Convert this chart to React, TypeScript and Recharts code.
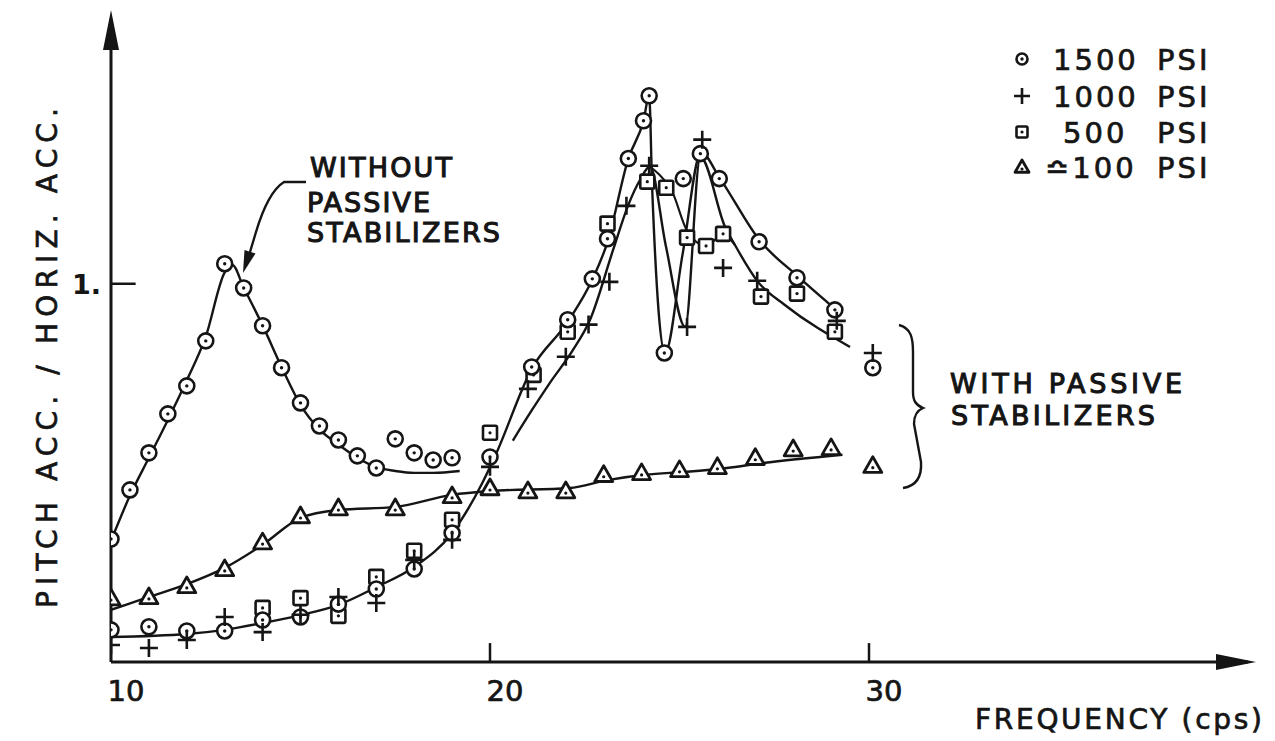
import React from 'react';
import { ComposedChart, Line, Scatter, XAxis, YAxis, ReferenceLine, Legend } from 'recharts';

const INK = '#151515';
const FONT = '"DejaVu Sans", sans-serif';

// 1500 psi, without passive stabilizers (measured points)
const freqBare = [10, 10.5, 11, 11.5, 12, 12.5, 13, 13.5, 14, 14.5, 15, 15.5, 16, 16.5, 17, 17.5, 18, 18.5, 19];
const ratioBare = [0.325, 0.455, 0.553, 0.656, 0.73, 0.849, 1.053, 0.989, 0.889, 0.778, 0.685, 0.624, 0.587, 0.545, 0.513, 0.59, 0.553, 0.534, 0.54];

// with passive stabilizers (measured points)
const freq1500 = [10, 11, 12, 13, 14, 15, 16, 17, 18, 19, 20, 21.1, 22.05, 22.7, 23.1, 23.65, 24.05, 24.2, 24.6, 25.1, 25.55, 26.05, 27.1, 28.1, 29.1, 30.1];
const ratio1500 = [0.085, 0.093, 0.082, 0.082, 0.111, 0.119, 0.153, 0.193, 0.246, 0.341, 0.542, 0.78, 0.905, 1.013, 1.119, 1.331, 1.431, 1.497, 0.817, 1.278, 1.344, 1.278, 1.111, 1.016, 0.931, 0.778];

const freq1000 = [10, 11, 12, 13, 14, 15, 16, 17, 18, 19, 20, 21, 22, 22.6, 23.15, 23.6, 24.2, 25.2, 25.6, 26.15, 27.05, 29.15, 30.1];
const ratio1000 = [0.045, 0.037, 0.058, 0.119, 0.079, 0.125, 0.172, 0.156, 0.27, 0.323, 0.516, 0.722, 0.807, 0.892, 1.005, 1.206, 1.312, 0.886, 1.381, 1.042, 1.008, 0.902, 0.817];

const freq500 = [14, 15, 16, 17, 18, 19, 20, 21.15, 22.05, 23.1, 24.15, 24.65, 25.2, 25.7, 26.15, 27.15, 28.1, 29.1];
const ratio500 = [0.143, 0.169, 0.122, 0.225, 0.294, 0.376, 0.606, 0.759, 0.873, 1.159, 1.27, 1.254, 1.122, 1.1, 1.132, 0.966, 0.974, 0.873];

const freq100 = [10, 11, 12, 13, 14, 15, 16, 17.5, 19, 20, 21, 22, 23, 24, 25, 26, 27, 28, 29, 30.1];
const ratio100 = [0.169, 0.172, 0.201, 0.246, 0.317, 0.386, 0.407, 0.407, 0.439, 0.46, 0.452, 0.452, 0.495, 0.5, 0.508, 0.516, 0.54, 0.563, 0.566, 0.519];

// faired curves as drawn on the sheet
const fairBareX = [10, 10.5, 11, 11.5, 12, 12.5, 13, 13.2, 13.5, 14, 14.5, 15, 15.5, 16, 16.5, 17, 17.5, 18, 18.5, 19.2];
const fairBareY = [0.32, 0.44, 0.54, 0.64, 0.745, 0.86, 1.03, 1.05, 0.99, 0.89, 0.78, 0.68, 0.615, 0.575, 0.54, 0.515, 0.505, 0.5, 0.5, 0.505];

const fair1500X = [10, 12, 13, 14, 15, 16, 17, 18, 19, 19.8, 20.15, 21.1, 22.05, 22.7, 23.1, 23.65, 24.05, 24.2, 24.28, 24.62, 25.08, 25.57, 26.07, 27.12, 28.13, 29.16];
const fair1500Y = [0.066, 0.074, 0.085, 0.103, 0.124, 0.151, 0.198, 0.251, 0.341, 0.474, 0.548, 0.775, 0.899, 1.011, 1.11, 1.331, 1.431, 1.497, 1.25, 0.817, 1.077, 1.347, 1.278, 1.114, 1.019, 0.929];

const fair1000X = [20.6, 21.1, 21.58, 22.19, 22.64, 23.25, 23.64, 23.96, 24.22, 24.64, 25.15, 25.55, 26.2, 26.46, 27.07, 27.78, 29.5];
const fair1000Y = [0.585, 0.665, 0.738, 0.825, 0.905, 1.09, 1.206, 1.275, 1.31, 1.1, 0.886, 1.335, 1.151, 1.103, 1.005, 0.944, 0.833];

const fair500X = [24.22, 24.45, 24.8, 25.2, 25.7, 26.15, 26.46];
const fair500Y = [1.31, 1.29, 1.245, 1.14, 1.1, 1.13, 1.103];

const fair100X = [10, 11, 12, 13, 14, 15, 16, 17.5, 19, 20, 22.1, 23.1, 24.1, 25.2, 26.25, 27.2, 29.3];
const fair100Y = [0.138, 0.172, 0.206, 0.249, 0.31, 0.381, 0.402, 0.41, 0.442, 0.452, 0.46, 0.481, 0.495, 0.503, 0.513, 0.526, 0.548];

const xTicks = [10, 20, 30];
const yTicks = [1];
const legendPressures = ['1500', '1000', '500', '\u224F100'];

const zip = (xs: number[], ys: number[]) => xs.map((x, i) => ({ x, y: ys[i] }));

const Ring = ({ cx, cy, r = 7.5 }: any) => (
  <g>
    <circle cx={cx} cy={cy} r={r} fill="#fff" stroke={INK} strokeWidth={2.6} />
    <circle cx={cx} cy={cy} r={1.7} fill={INK} />
  </g>
);
const Cross = ({ cx, cy, a = 9 }: any) => (
  <path d={`M${cx - a},${cy}H${cx + a}M${cx},${cy - a}V${cy + a}`} stroke={INK} strokeWidth={2.6} fill="none" />
);
const Box = ({ cx, cy, s = 7 }: any) => (
  <g>
    <rect x={cx - s} y={cy - s} width={2 * s} height={2 * s} rx={1.5} fill="#fff" stroke={INK} strokeWidth={2.6} />
    <circle cx={cx} cy={cy} r={1.6} fill={INK} />
  </g>
);
const Tri = ({ cx, cy, s = 9 }: any) => (
  <g>
    <path d={`M${cx},${cy - s}L${cx + s},${cy + s * 0.75}L${cx - s},${cy + s * 0.75}Z`} fill="#fff" stroke={INK} strokeWidth={2.8} strokeLinejoin="round" />
    <circle cx={cx} cy={cy + 2} r={1.6} fill={INK} />
  </g>
);

const legendIcons = [
  (y: number) => <Ring cx={22} cy={y} r={5.5} />,
  (y: number) => <Cross cx={22} cy={y} a={8} />,
  (y: number) => <Box cx={22} cy={y} s={5.5} />,
  (y: number) => <Tri cx={22} cy={y} s={7} />,
];

const inked = { fill: INK, stroke: INK, strokeWidth: 0.7 };

const renderLegend = () => (
  <svg width={270} height={170} style={{ fontFamily: FONT }}>
    {legendPressures.map((p, i) => {
      const base = [50, 87, 123, 158][i];
      const startX = [53, 53, 63, 45][i];
      return (
        <g key={p}>
          {legendIcons[i](base - 11)}
          <text x={startX} y={base} fontSize={29} letterSpacing={3} {...inked}>{p}</text>
          <text x={157} y={base} fontSize={29} letterSpacing={3} {...inked}>PSI</text>
        </g>
      );
    })}
  </svg>
);

const XTick = ({ x, payload }: any) => (
  <text x={x + 15} y={701} textAnchor="middle" fontSize={29} fontFamily={FONT} {...inked}>{payload.value}</text>
);
const YTick = ({ y }: any) => (
  <text x={101} y={y + 10} textAnchor="end" fontSize={27} fontWeight="bold" fontFamily={FONT} fill={INK}>1.</text>
);

export default function App() {
  return (
    <div style={{ position: 'absolute', left: 0, top: 0, width: 1275, height: 741, background: '#fff' }}>
      <ComposedChart width={1275} height={741} margin={{ top: 19, right: 27, bottom: 0, left: 0 }}>
        <XAxis type="number" dataKey="x" domain={[10, 40]} ticks={xTicks} allowDataOverflow height={79}
          tickLine={false} axisLine={{ stroke: INK, strokeWidth: 3 }} tick={<XTick />} />
        <YAxis type="number" dataKey="y" domain={[0, 1.7]} ticks={yTicks} allowDataOverflow width={111}
          tickLine={false} axisLine={{ stroke: INK, strokeWidth: 3 }} tick={<YTick />} />
        <ReferenceLine segment={[{ x: 10, y: 1 }, { x: 10.65, y: 1 }]} stroke={INK} strokeWidth={2.5} />
        <ReferenceLine segment={[{ x: 20, y: 0 }, { x: 20, y: 0.05 }]} stroke={INK} strokeWidth={2.5} />
        <ReferenceLine segment={[{ x: 30, y: 0 }, { x: 30, y: 0.05 }]} stroke={INK} strokeWidth={2.5} />
        <Legend layout="vertical" align="center" verticalAlign="middle" content={renderLegend}
          wrapperStyle={{ left: 1000, top: 20, width: 270, height: 170 }} />

        <Line data={zip(fairBareX, fairBareY)} dataKey="y" type="monotone" dot={false} stroke={INK} strokeWidth={2.4} isAnimationActive={false} legendType="none" />
        <Line data={zip(fair1500X, fair1500Y)} dataKey="y" type="monotone" dot={false} stroke={INK} strokeWidth={2.4} isAnimationActive={false} legendType="none" />
        <Line data={zip(fair1000X, fair1000Y)} dataKey="y" type="monotone" dot={false} stroke={INK} strokeWidth={2.4} isAnimationActive={false} legendType="none" />
        <Line data={zip(fair500X, fair500Y)} dataKey="y" type="monotone" dot={false} stroke={INK} strokeWidth={2.1} isAnimationActive={false} legendType="none" />
        <Line data={zip(fair100X, fair100Y)} dataKey="y" type="monotone" dot={false} stroke={INK} strokeWidth={2.4} isAnimationActive={false} legendType="none" />

        <Scatter name="100 PSI" data={zip(freq100, ratio100)} shape={(p: any) => <Tri cx={p.cx} cy={p.cy} />} isAnimationActive={false} />
        <Scatter name="500 PSI" data={zip(freq500, ratio500)} shape={(p: any) => <Box cx={p.cx} cy={p.cy} />} isAnimationActive={false} />
        <Scatter name="1500 PSI" data={zip(freqBare, ratioBare)} shape={(p: any) => <Ring cx={p.cx} cy={p.cy} />} isAnimationActive={false} />
        <Scatter name="1500 PSI" data={zip(freq1500, ratio1500)} shape={(p: any) => <Ring cx={p.cx} cy={p.cy} />} isAnimationActive={false} />
        <Scatter name="1000 PSI" data={zip(freq1000, ratio1000)} shape={(p: any) => <Cross cx={p.cx} cy={p.cy} />} isAnimationActive={false} />
      </ComposedChart>

      <svg width={1275} height={741} style={{ position: 'absolute', left: 0, top: 0, pointerEvents: 'none', fontFamily: FONT }}>
        {/* axis arrowheads */}
        <path d="M111,10 L103,50 L119,50 Z" fill={INK} />
        <path d="M1256,662 L1216,654 L1216,670 Z" fill={INK} />

        {/* axis titles */}
        <text transform="translate(57,358) rotate(-90)" textAnchor="middle" fontSize={28} {...inked}
          textLength={500} lengthAdjust="spacing">PITCH  ACC. / HORIZ. ACC.</text>
        <text x={975} y={729} fontSize={28} {...inked} textLength={287} lengthAdjust="spacing">FREQUENCY (cps)</text>

        {/* without stabilizers note */}
        <text x={310} y={177} fontSize={27} {...inked} strokeWidth={1.1} textLength={142} lengthAdjust="spacing">WITHOUT</text>
        <text x={307} y={212} fontSize={27} {...inked} strokeWidth={1.1} textLength={123} lengthAdjust="spacing">PASSIVE</text>
        <text x={307} y={242} fontSize={27} {...inked} strokeWidth={1.1} textLength={193} lengthAdjust="spacing">STABILIZERS</text>
        <path d="M306,182 L284,182 Q268,192 256,232 L250,252" fill="none" stroke={INK} strokeWidth={2.4} />
        <path d="M243,273 L255.5,253.5 L244.5,250 Z" fill={INK} />

        {/* with stabilizers note */}
        <path d="M899,325 C911,328 913,338 913,352 L913,392 C913,401 916,405 923,408 C916,411 914,416 914,424 L921,462 C922,478 916,486 903,488"
          fill="none" stroke={INK} strokeWidth={2.4} />
        <text x={950} y={393} fontSize={27} {...inked} strokeWidth={1.1} textLength={232} lengthAdjust="spacing">WITH  PASSIVE</text>
        <text x={951} y={425} fontSize={27} {...inked} strokeWidth={1.1} textLength={204} lengthAdjust="spacing">STABILIZERS</text>
      </svg>
    </div>
  );
}
